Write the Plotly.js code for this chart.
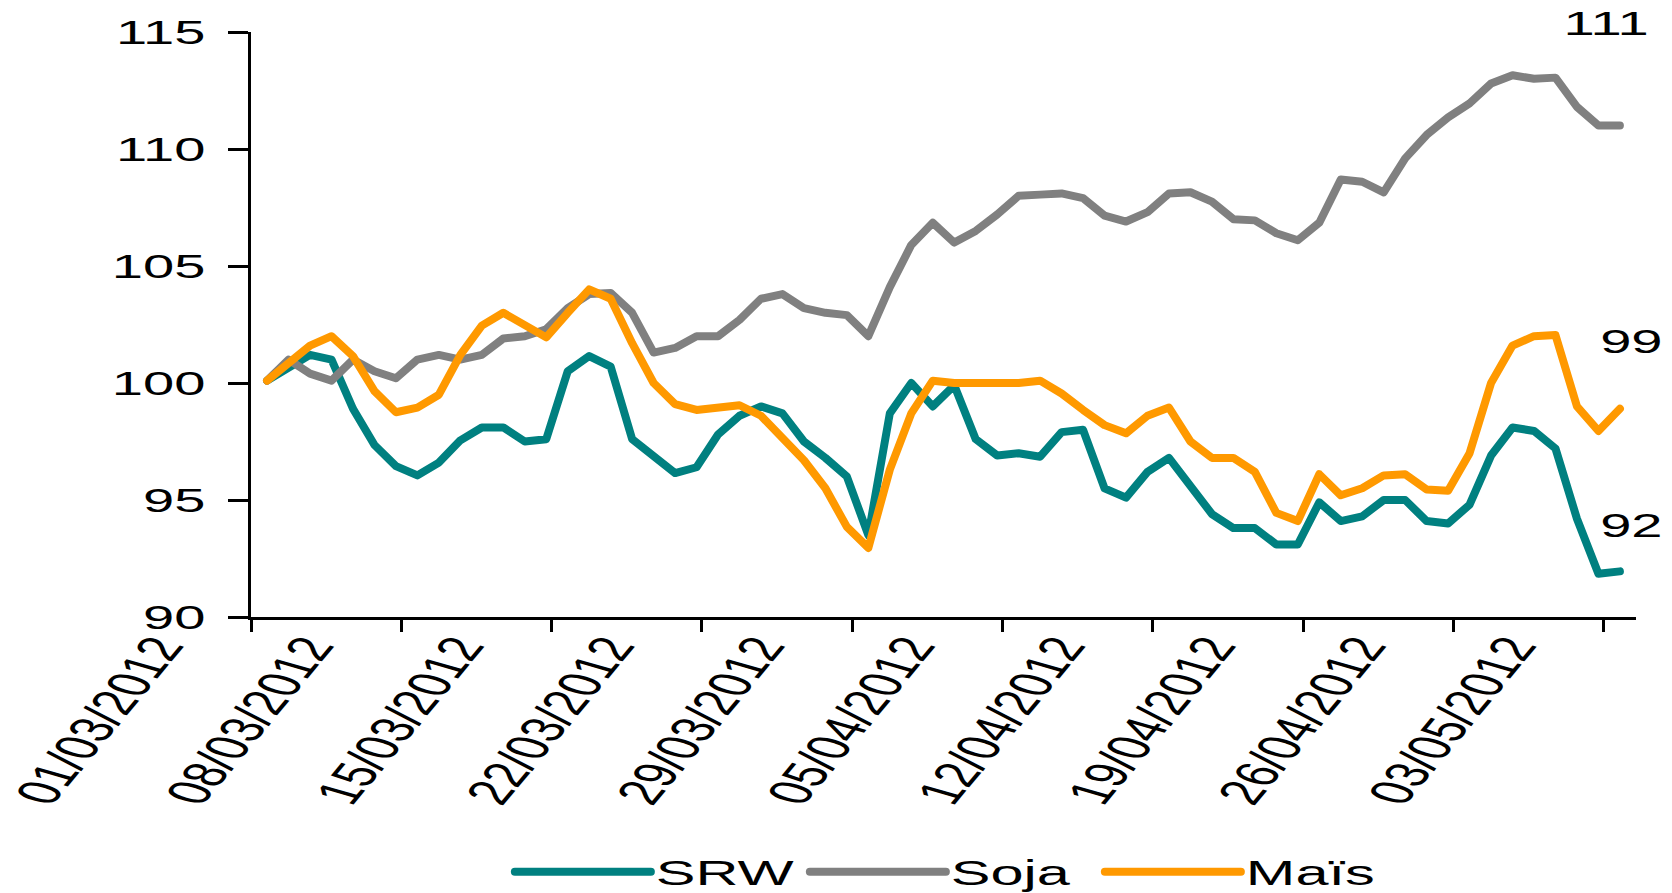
<!DOCTYPE html>
<html>
<head>
<meta charset="utf-8">
<script src="https://cdn.plot.ly/plotly-3.0.1.min.js"></script>
<style>
  html, body { margin: 0; padding: 0; background: #ffffff; }
  #chart { width: 1672px; height: 893px; }
  #chart .scatterlayer .js-line, #chart .legendlines .js-line { stroke-linejoin: round; stroke-linecap: round; }
</style>
</head>
<body>
<div id="chart"></div>
<script>
// ---------- data ----------
const START_DATE = '2012-03-01';
const seriesNames = ['SRW', 'Soja', 'Maïs'];
const seriesColors = ['#008080', '#808080', '#FF9900'];

const srw = [100.1, 100.7, 101.2, 101.0, 98.9, 97.35, 96.45, 96.05, 96.6, 97.55,
             98.1, 98.1, 97.5, 97.6, 100.5, 101.15, 100.7, 97.6, 96.85, 96.15,
             96.4, 97.8, 98.6, 99.0, 98.7, 97.5, 96.8, 96.0, 93.5, 98.7,
             100.0, 99.0, 99.9, 97.6, 96.9, 97.0, 96.85, 97.9, 98.0, 95.5,
             95.1, 96.2, 96.8, 95.55, 94.4, 93.8, 93.8, 93.1, 93.1, 94.9,
             94.1, 94.3, 95.0, 95.0, 94.1, 94.0, 94.8, 96.9, 98.1, 97.95,
             97.2, 94.2, 91.85, 91.95];

const soja = [100.1, 101.0, 100.4, 100.1, 101.0, 100.5, 100.2, 101.0, 101.2, 101.0,
              101.2, 101.9, 102.0, 102.3, 103.2, 103.8, 103.85, 103.0, 101.3, 101.5,
              102.0, 102.0, 102.7, 103.6, 103.8, 103.2, 103.0, 102.9, 102.0, 104.1,
              105.9, 106.85, 106.0, 106.5, 107.2, 108.0, 108.05, 108.1, 107.9, 107.15,
              106.9, 107.3, 108.1, 108.15, 107.75, 107.0, 106.95, 106.4, 106.1, 106.85,
              108.7, 108.6, 108.15, 109.6, 110.6, 111.35, 111.95, 112.8, 113.15, 113.0,
              113.05, 111.8, 111.0, 111.0];

const mais = [100.1, 100.8, 101.6, 102.0, 101.15, 99.65, 98.75, 98.95, 99.5, 101.2,
              102.45, 103.0, 102.5, 101.95, 103.0, 104.0, 103.6, 101.7, 100.0, 99.1,
              98.85, 98.95, 99.05, 98.6, 97.6, 96.7, 95.5, 93.85, 92.95, 96.3,
              98.7, 100.1, 100.0, 100.0, 100.0, 100.0, 100.1, 99.55, 98.85, 98.2,
              97.85, 98.6, 98.95, 97.5, 96.8, 96.8, 96.2, 94.45, 94.1, 96.1,
              95.2, 95.5, 96.05, 96.1, 95.45, 95.4, 97.0, 100.0, 101.6, 102.0,
              102.05, 99.0, 97.95, 98.9];

const yTickValues = [90, 95, 100, 105, 110, 115];
const xTickFormat = '%d/%m/%Y';

// consecutive calendar days, one per value
function dayList(start, n) {
  const out = [];
  const d0 = new Date(start + 'T00:00:00Z');
  for (let k = 0; k < n; k++) {
    const d = new Date(d0.getTime() + k * 86400000);
    out.push(d.toISOString().slice(0, 10));
  }
  return out;
}
const dates = dayList(START_DATE, srw.length);

// ---------- chart ----------
const FONT = 'Liberation Sans, Arial, Helvetica, sans-serif';
const DAY = 86400000;
const allSeries = [srw, soja, mais];

const traces = allSeries.map((vals, i) => ({
  type: 'scatter',
  mode: 'lines',
  name: seriesNames[i],
  x: dates,
  y: vals,
  xperiod: DAY,
  xperiod0: '2000-01-01 18:00',
  xperiodalignment: 'end',
  line: { color: seriesColors[i], width: 8 },
  hoverinfo: 'skip'
}));

const last = a => a[a.length - 1];

const layout = {
  width: 1672,
  height: 893,
  margin: { l: 251, r: 36, t: 32, b: 276, pad: 0, autoexpand: false },
  paper_bgcolor: '#ffffff',
  plot_bgcolor: '#ffffff',
  font: { family: FONT, color: '#000000' },
  showlegend: true,
  legend: {
    orientation: 'h',
    x: 0.1869, xanchor: 'left',
    y: -0.436, yanchor: 'middle',
    itemwidth: 136,
    entrywidth: 144,
    traceorder: 'normal',
    font: { family: FONT, size: 35, color: '#000000' },
    bgcolor: 'rgba(0,0,0,0)'
  },
  xaxis: {
    type: 'date',
    range: ['2012-03-01', '2012-05-04 12:00'],
    tick0: START_DATE,
    dtick: 7 * DAY,
    tickformat: xTickFormat,
    tickangle: -64,
    ticks: 'outside', ticklen: 12, tickwidth: 3, tickcolor: '#000000',
    showline: true, linecolor: '#000000', linewidth: 3,
    showgrid: false, zeroline: false,
    tickfont: { family: FONT, size: 36, color: '#000000' },
    ticklabelshift: -77,
    ticklabelstandoff: -20,
    fixedrange: true
  },
  yaxis: {
    range: [90, 115],
    tickmode: 'array',
    tickvals: yTickValues,
    ticktext: yTickValues.map(String),
    ticks: 'outside', ticklen: 20, tickwidth: 3, tickcolor: '#000000',
    showline: true, linecolor: '#000000', linewidth: 3,
    showgrid: false, zeroline: false,
    tickfont: { family: FONT, size: 33, color: '#000000' },
    ticklabelstandoff: 16,
    fixedrange: true
  },
  annotations: [
    { xref: 'paper', yref: 'paper', x: 0.9783, y: 1.0137, text: String(Math.round(last(soja))) },
    { xref: 'paper', yref: 'paper', x: 0.9964, y: 0.4709, text: String(Math.round(last(mais))) },
    { xref: 'paper', yref: 'paper', x: 0.9964, y: 0.1564, text: String(Math.round(last(srw))) }
  ].map(a => Object.assign(a, {
    showarrow: false, xanchor: 'center', yanchor: 'middle',
    font: { family: FONT, size: 33, color: '#000000' }
  }))
};

// the reference's lettering is widened horizontally; reproduce that look
const STRETCH = 1.7;
function stretch(selector, mode) {
  document.querySelectorAll('#chart ' + selector).forEach(el => {
    try {
      const r = el.getBoundingClientRect();
      if (!r.width) return;
      const px = mode === 'right' ? r.right : (mode === 'left' ? r.left : (r.left + r.right) / 2);
      const svg = el.ownerSVGElement;
      const pt = svg.createSVGPoint();
      pt.x = px; pt.y = r.top;
      const p = pt.matrixTransform(el.parentNode.getScreenCTM().inverse());
      const old = el.getAttribute('transform') || '';
      el.setAttribute('transform',
        'translate(' + p.x + ',0) scale(' + STRETCH + ',1) translate(' + (-p.x) + ',0) ' + old);
    } catch (e) { /* leave text as is */ }
  });
}

Plotly.newPlot('chart', traces, layout, { displayModeBar: false, staticPlot: true }).then(() => {
  stretch('.ytick text', 'right');
  stretch('.xtick text', 'right');
  stretch('.annotation-text', 'center');
  stretch('.legendtext', 'left');
});
</script>
</body>
</html>
